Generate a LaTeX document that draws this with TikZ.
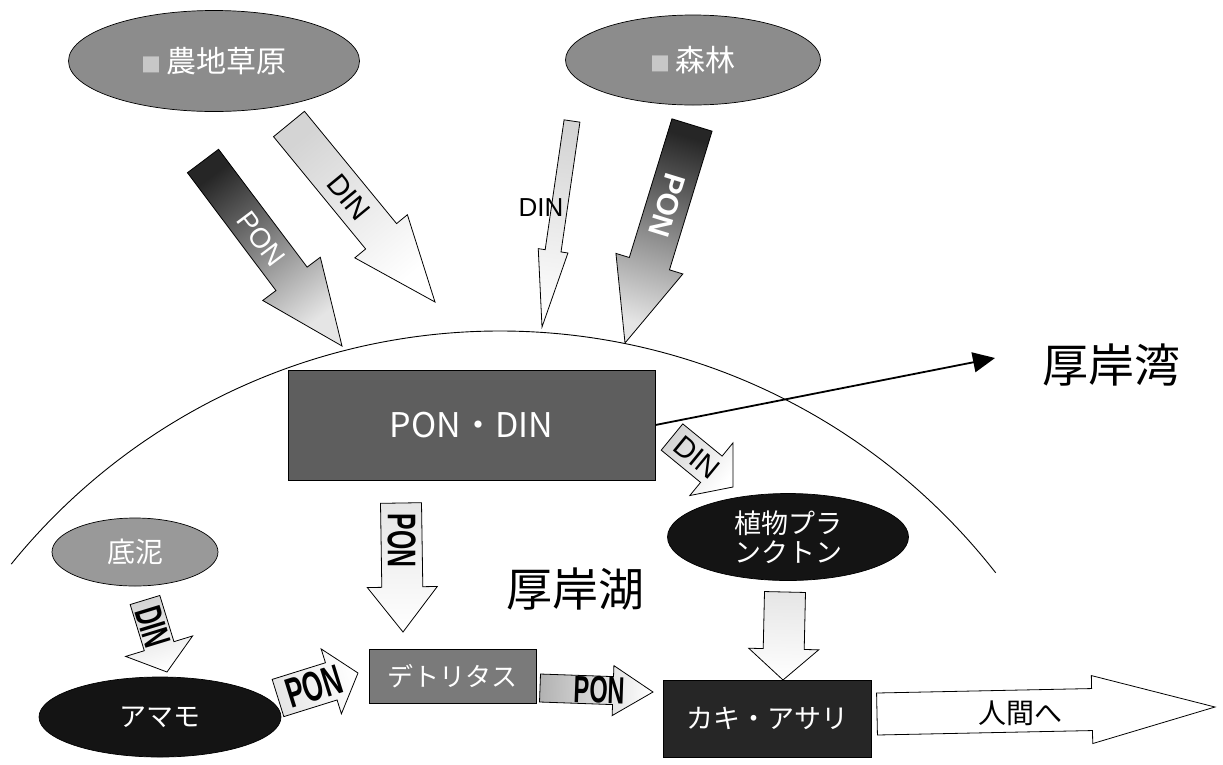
\documentclass[tikz,border=0pt]{standalone}
\usepackage{fontspec}
\setmainfont{Noto Sans CJK JP}
\newfontfamily\arial{Liberation Sans}
\newfontfamily\narrow[FakeStretch=0.62]{Liberation Sans}
\usetikzlibrary{calc,shapes.geometric,arrows.meta}

% block arrow: #1 name, #2 tail, #3 tip, #4 half shaft, #5 half head, #6 head length, #7 style
\newcommand\blockarr[7]{%
  \coordinate (#1-H) at ($(#3)!#6pt!(#2)$);
  \path[#7] ($(#2)!#4pt!90:(#3)$) -- ($(#1-H)!#4pt!90:(#3)$) -- ($(#1-H)!#5pt!90:(#3)$)
    -- (#3) -- ($(#1-H)!#5pt!-90:(#3)$) -- ($(#1-H)!#4pt!-90:(#3)$) -- ($(#2)!#4pt!-90:(#3)$) -- cycle;
}

\tikzset{
  blk/.style={draw=black, line width=0.8pt, line join=miter},
  darkgrad/.style={blk, top color=black!85, bottom color=black!10},
  lightgrad/.style={blk, top color=black!17, bottom color=white},
  palegrad/.style={blk, top color=black!10, bottom color=white},
  whitearr/.style={blk, fill=white},
  ell/.style={ellipse, draw=black, line width=0.7pt, inner sep=0pt, text=white, align=center},
  box/.style={rectangle, draw=black, line width=0.7pt, inner sep=0pt, text=white},
  fs/.style={font=\fontsize{#1}{#1}\selectfont},
  lab/.style={inner sep=0pt},
}

\begin{document}
\begin{tikzpicture}[x=1pt,y=-1pt]
\useasboundingbox (0,0) rectangle (1223,764);
\fill[white] (0,0) rectangle (1223,764);

% boundary of the lake
\draw[line width=0.9pt] (500,960) ++(-141:629) arc[start angle=-141,end angle=-38,radius=629];

% source ellipses
\node[ell, fill=black!45, minimum width=291pt, minimum height=101pt] (noti) at (214,61)
  {{\fontsize{20}{20}\selectfont\textcolor{black!22}{■}}\hspace{5pt}{\fontsize{30}{34}\selectfont 農地草原}};
\node[ell, fill=black!45, minimum width=255pt, minimum height=90pt] (shinrin) at (693,60)
  {{\fontsize{20}{20}\selectfont\textcolor{black!22}{■}}\hspace{5pt}{\fontsize{30}{34}\selectfont 森林}};

% central nodes
\node[box, fill=black!63, minimum width=367pt, minimum height=110pt, fs=34] (pondin) at (471.5,425) {PON・DIN};
\node[ell, fill=black!40, minimum width=166pt, minimum height=68pt, fs=28] (teidei) at (135,552) {底泥};
\node[ell, fill=black!92, minimum width=242pt, minimum height=80pt, fs=27] (amamo) at (160,717) {アマモ};
\node[box, fill=black!52, minimum width=167pt, minimum height=54pt, fs=26] (detritus) at (452.5,676) {デトリタス};
\node[ell, fill=black!92, minimum width=241pt, minimum height=87pt, font=\fontsize{27}{29}\selectfont] (plankton) at (788,537) {植物プラ\\ンクトン};
\node[box, fill=black!85, minimum width=208pt, minimum height=77pt, fs=27] (kaki) at (767,718.5) {カキ・アサリ};

% area labels
\node[fs=46] (wan) at (1111,365) {厚岸湾};
\node[fs=46] (ko) at (575,589) {厚岸湖};

% arrow end points
\coordinate (a1t) at (203,161);  \coordinate (a1h) at (342,346);
\coordinate (a2t) at (289,124);  \coordinate (a2h) at (435,302);
\coordinate (a3t) at (572,121);  \coordinate (a3h) at (542,327);
\coordinate (a4t) at (692,125);  \coordinate (a4h) at (625,343);
\coordinate (a5t) at (401,503);  \coordinate (a5h) at (403,632);
\coordinate (a6t) at (672,437);  \coordinate (a6h) at (733,487);
\coordinate (a7t) at (785,592);  \coordinate (a7h) at (783,680);
\coordinate (a8t) at (145,600);  \coordinate (a8h) at (167,672);
\coordinate (a9t) at (278,698);  \coordinate (a9h) at (358,673);
\coordinate (a10t) at (540,688); \coordinate (a10h) at (653,692);
\coordinate (a11t) at (877,714); \coordinate (a11h) at (1215,707);
\coordinate (wantip) at (995,358);

% block arrows
\blockarr{a1}{a1t}{a1h}{19.5}{36}{84}{darkgrad, shading angle=36.9}
\blockarr{a2}{a2t}{a2h}{20}{34}{85}{lightgrad, shading angle=39.4}
\blockarr{a3}{a3t}{a3h}{8}{15}{77}{lightgrad, shading angle=-8.3}
\blockarr{a4}{a4t}{a4h}{21}{35}{83}{darkgrad, shading angle=-17.1}
\blockarr{a5}{a5t}{a5h}{20.5}{35}{45}{palegrad, shading angle=0.9}
\blockarr{a6}{a6t}{a6h}{17}{34}{28}{lightgrad, shading angle=50.7}
\blockarr{a7}{a7t}{a7h}{20.5}{35}{31}{palegrad, shading angle=-1.3}
\blockarr{a8}{a8t}{a8h}{15.5}{35}{27}{lightgrad, shading angle=17}
\blockarr{a9}{a9t}{a9h}{19.5}{34}{28}{palegrad, shading angle=107.4}
\blockarr{a10}{a10t}{a10h}{14}{25}{40}{lightgrad, top color=black!30, shading angle=88}
\blockarr{a11}{a11t}{a11h}{21}{34}{123}{whitearr}

% arrow labels
\node[lab, rotate=-53.1, text=white, font=\arial\fontsize{28}{28}\selectfont] (l1) at ($(a1t)!0.42!(a1h)$) {PON};
\node[lab, rotate=-50.6, font=\arial\fontsize{29}{29}\selectfont] (l2) at ($(a2t)!0.41!(a2h)$) {DIN};
\node[lab, font=\arial\fontsize{26}{26}\selectfont] (l3) at (541,208) {DIN};
\node[lab, rotate=-107.1, text=white, font=\arial\bfseries\fontsize{30}{30}\selectfont] (l4) at ($(a4t)!0.37!(a4h)$) {PON};
\node[lab, rotate=-90, font=\narrow\bfseries\fontsize{40}{40}\selectfont] (l5) at ($(a5t)!0.29!(a5h)$) {PON};
\node[lab, rotate=-39.3, font=\arial\fontsize{29}{29}\selectfont] (l6) at ($(a6t)!0.41!(a6h)$) {DIN};
\node[lab, rotate=-73, font=\narrow\bfseries\fontsize{38}{38}\selectfont] (l8) at ($(a8t)!0.375!(a8h)$) {DIN};
\node[lab, rotate=17.4, font=\narrow\bfseries\fontsize{42}{42}\selectfont] (l9) at ($(a9t)!0.45!(a9h)$) {PON};
\node[lab, rotate=-2, font=\narrow\bfseries\fontsize{38}{38}\selectfont] (l10) at ($(a10t)!0.53!(a10h)$) {PON};
\node[lab, fs=28] (l11) at (1020,713) {人間へ};

% outflow to the bay
\draw[line width=1.8pt, -{Triangle[length=22pt,width=20pt]}] (pondin.east) -- (wantip);
\end{tikzpicture}
\end{document}
